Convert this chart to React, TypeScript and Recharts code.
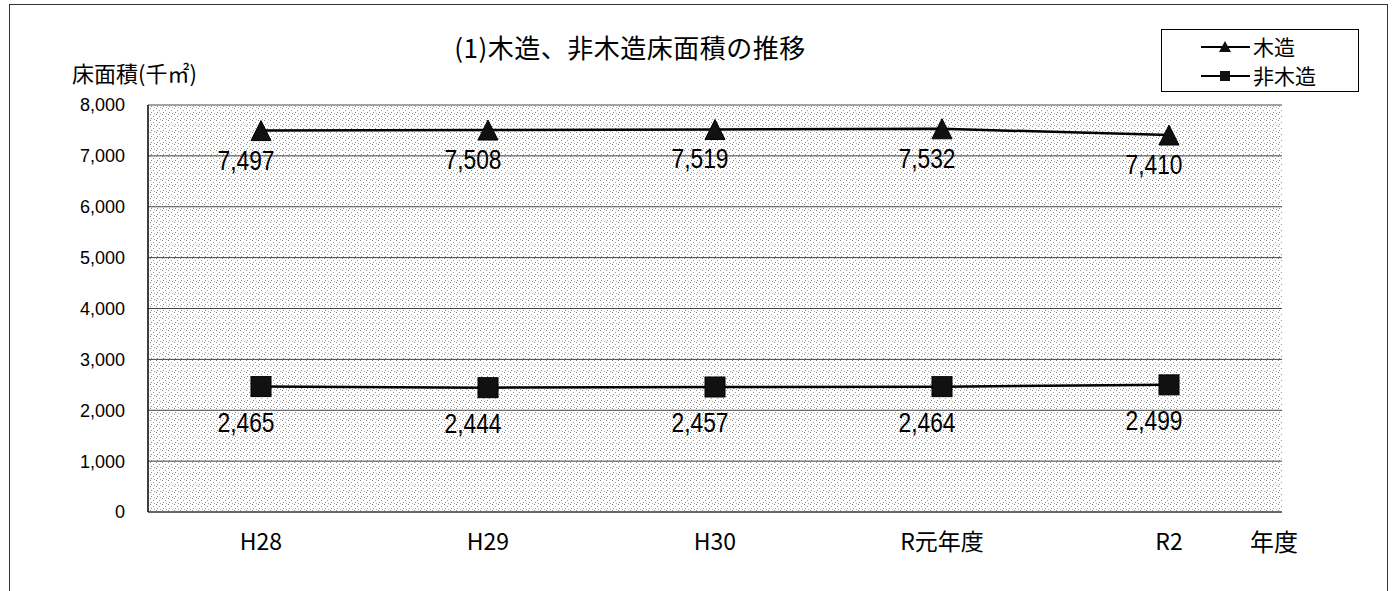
import React from "react";
import {
  ComposedChart,
  Line,
  XAxis,
  YAxis,
  CartesianGrid,
  LabelList,
} from "recharts";

const years = ["H28", "H29", "H30", "R元年度", "R2"];
const woodValues = [7497, 7508, 7519, 7532, 7410];
const nonWoodValues = [2465, 2444, 2457, 2464, 2499];
const yTicks = [0, 1000, 2000, 3000, 4000, 5000, 6000, 7000, 8000];
const edgeTicks = [0, 1, 2, 3, 4, 5];
const seriesNames = ["木造", "非木造"];

const data = years.map((year, i) => ({
  year,
  wood: woodValues[i],
  nonWood: nonWoodValues[i],
}));

const JP = "'Noto Sans CJK JP', 'Noto Sans', sans-serif";
const NUM = "'Liberation Sans', Arial, sans-serif";

function Triangle({ cx, cy }: any) {
  if (cx == null || cy == null) return null;
  return (
    <polygon
      points={`${cx},${cy - 10} ${cx + 10},${cy + 10} ${cx - 10},${cy + 10}`}
      fill="#111"
      stroke="#000"
    />
  );
}

function Square({ cx, cy }: any) {
  if (cx == null || cy == null) return null;
  return <rect x={cx - 10} y={cy - 10} width={20} height={20} fill="#111" stroke="#000" />;
}

function makeLabel(dy: number) {
  return (props: any) => {
    const { x, y, value } = props;
    return (
      <text
        x={x - 15}
        y={y + dy}
        textAnchor="middle"
        fontSize={27}
        fontFamily={NUM}
        fill="#000"
        textLength={57}
        lengthAdjust="spacingAndGlyphs"
      >
        {Number(value).toLocaleString("en-US")}
      </text>
    );
  };
}

function XTick({ x, y, payload }: any) {
  return (
    <text x={x} y={y + 38} textAnchor="middle" fontSize={23} fontFamily={JP} fill="#000">
      {payload.value}
    </text>
  );
}

function LegendBox() {
  return (
    <div
      style={{
        position: "absolute",
        left: 1161,
        top: 29,
        width: 198,
        height: 63,
        border: "1px solid #000",
        background: "#fff",
        boxSizing: "border-box",
        paddingTop: 2,
        zIndex: 2,
      }}
    >
      {seriesNames.map((name, i) => (
        <div key={name} style={{ display: "flex", alignItems: "center", height: 29, paddingLeft: 38 }}>
          <svg width={52} height={16}>
            <line x1={1} y1={8} x2={50} y2={8} stroke="#000" strokeWidth={2} />
            {i === 0 ? (
              <polygon points="25,2 31,13 19,13" fill="#111" />
            ) : (
              <rect x={20} y={3} width={10} height={10} fill="#111" />
            )}
          </svg>
          <span style={{ fontFamily: JP, fontSize: 21, color: "#000", marginLeft: 1, lineHeight: "29px" }}>{name}</span>
        </div>
      ))}
    </div>
  );
}

export default function App() {
  return (
    <div style={{ position: "fixed", left: 0, top: 0, width: 1392, height: 591, overflow: "hidden", background: "#fff" }}>
      <ComposedChart
        width={1392}
        height={591}
        data={data}
        margin={{ top: 105, right: 110, bottom: 0, left: 0 }}
      >
        <defs>
          <pattern id="dots" width="6" height="6" patternUnits="userSpaceOnUse">
            <rect width="6" height="6" fill="#fff" />
            <rect x="0" y="0" width="1" height="1" fill="#8a8a8a" />
            <rect x="3" y="2" width="1" height="1" fill="#9a9a9a" />
            <rect x="1" y="4" width="1" height="1" fill="#8a8a8a" />
            <rect x="4" y="5" width="1" height="1" fill="#aaa" />
          </pattern>
        </defs>
        <text x={630} y={58} textAnchor="middle" fontSize={26} fontFamily={JP} fill="#000" letterSpacing={0.5}>
          (1)木造、非木造床面積の推移
        </text>
        <text x={72} y={82} fontSize={22} fontFamily={JP} fill="#000">
          床面積(千㎡)
        </text>
        <text x={1250} y={551} fontSize={24} fontFamily={JP} fill="#000">
          年度
        </text>
        <CartesianGrid vertical={false} fill="url(#dots)" stroke="#444" strokeWidth={1} />
        <XAxis
          dataKey="year"
          height={79}
          padding={{ left: 113, right: 113 }}
          tickLine={false}
          tickSize={0}
          tickMargin={0}
          axisLine={{ stroke: "#555", strokeWidth: 1.5 }}
          tick={<XTick />}
        />
        <XAxis
          xAxisId="edge"
          type="number"
          domain={[0, 5]}
          ticks={edgeTicks}
          tick={false}
          mirror
          height={0}
          axisLine={false}
          tickLine={{ stroke: "#000", strokeWidth: 1.5 }}
          tickSize={7}
        />
        <YAxis
          width={148}
          domain={[0, 8000]}
          ticks={yTicks}
          interval={0}
          tickLine={false}
          tickSize={0}
          tickMargin={23}
          axisLine={{ stroke: "#000", strokeWidth: 1.5 }}
          tickFormatter={(v: number) => v.toLocaleString("en-US")}
          tick={{ fontSize: 18, fontFamily: NUM, fill: "#000" }}
        />
        <Line
          dataKey="wood"
          name={seriesNames[0]}
          stroke="#000"
          strokeWidth={2.5}
          dot={<Triangle />}
          isAnimationActive={false}
        >
          <LabelList dataKey="wood" content={makeLabel(39)} />
        </Line>
        <Line
          dataKey="nonWood"
          name={seriesNames[1]}
          stroke="#000"
          strokeWidth={2.5}
          dot={<Square />}
          isAnimationActive={false}
        >
          <LabelList dataKey="nonWood" content={makeLabel(45)} />
        </Line>
      </ComposedChart>
      <LegendBox />
      <div
        style={{
          position: "absolute",
          left: 9,
          top: 4,
          width: 1379,
          height: 620,
          border: "1px solid #333",
          pointerEvents: "none",
          boxSizing: "border-box",
          zIndex: 3,
        }}
      />
    </div>
  );
}
